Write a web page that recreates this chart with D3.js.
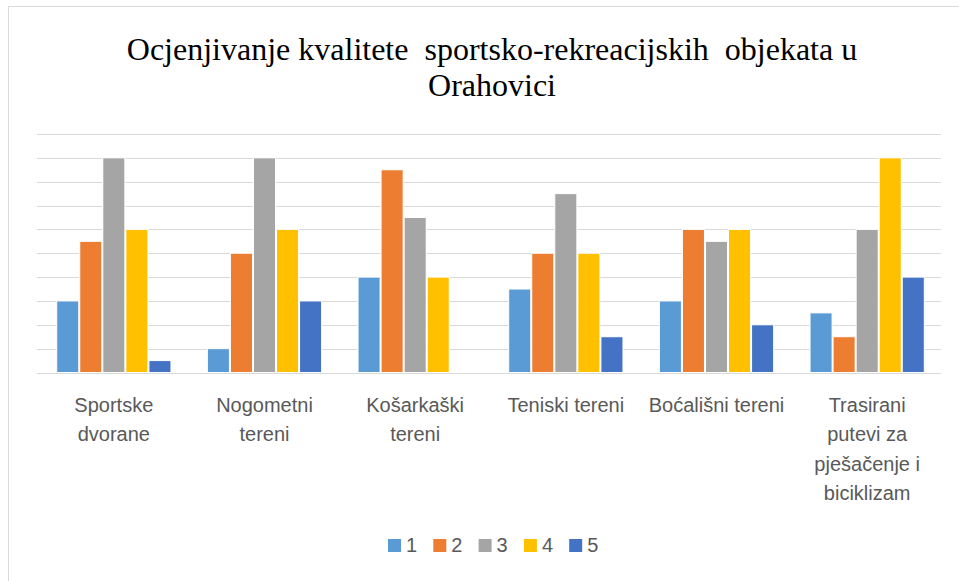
<!DOCTYPE html>
<html>
<head>
<meta charset="utf-8">
<script src="https://cdn.jsdelivr.net/npm/d3@7"></script>
<style>
  body { margin: 0; background: #fff; }
  svg { display: block; }
</style>
</head>
<body>
<svg id="chart" width="959" height="581"></svg>
<script>
// categories and ratings (counts of answers 1..5)
const categories = [
  ['Sportske', 'dvorane'],
  ['Nogometni', 'tereni'],
  ['Košarkaški', 'tereni'],
  ['Teniski tereni'],
  ['Boćališni tereni'],
  ['Trasirani', 'putevi za', 'pješačenje i', 'biciklizam']
];
const seriesNames = ['1', '2', '3', '4', '5'];
const ocjena1 = [6, 2, 8, 7, 6, 5];
const ocjena2 = [11, 10, 17, 10, 12, 3];
const ocjena3 = [18, 18, 13, 15, 11, 12];
const ocjena4 = [12, 12, 8, 10, 12, 18];
const ocjena5 = [1, 6, 0, 3, 4, 8];
const colors = ['#5B9BD5', '#ED7D31', '#A5A5A5', '#FFC000', '#4472C4'];
const yTicks = d3.range(0, 21, 2);

const series = [ocjena1, ocjena2, ocjena3, ocjena4, ocjena5];

const svg = d3.select('#chart');
const margin = {left: 37, right: 18, top: 134, bottom: 208};
const W = 959, H = 581;

// chart frame
svg.append('rect')
  .attr('x', 8.5).attr('y', 6.5)
  .attr('width', 1000).attr('height', 1000)
  .attr('fill', 'none')
  .attr('stroke', '#D9D9D9');

const x0 = d3.scaleBand()
  .domain(d3.range(categories.length))
  .range([margin.left + 1.5, W - margin.right + 1.5])
  .paddingInner(0.235).paddingOuter(0.1175);

const x1 = d3.scaleBand()
  .domain(d3.range(seriesNames.length))
  .range([0, x0.bandwidth()])
  .padding(0.0);

const y = d3.scaleLinear()
  .domain([0, 20])
  .range([H - margin.bottom - 0.5, margin.top]);

// gridlines
svg.append('g')
  .selectAll('line')
  .data(yTicks)
  .join('line')
  .attr('x1', margin.left)
  .attr('x2', W - margin.right)
  .attr('y1', d => Math.round(y(d)) + 0.5)
  .attr('y2', d => Math.round(y(d)) + 0.5)
  .attr('stroke', '#D9D9D9')
  .attr('stroke-width', 1.2);

// bars
const groups = svg.append('g')
  .selectAll('g')
  .data(categories)
  .join('g')
  .attr('transform', (d, i) => `translate(${x0(i)},0)`);

groups.selectAll('rect')
  .data((d, i) => series.map((s, k) => ({k, v: s[i]})))
  .join('rect')
  .filter(d => d.v > 0)
  .attr('x', d => x1(d.k) + 0.5)
  .attr('width', x1.bandwidth() - 1)
  .attr('y', d => y(d.v))
  .attr('height', d => y(0) - y(d.v))
  .attr('fill', d => colors[d.k])
  .attr('stroke', '#fff')
  .attr('stroke-width', 1);

// category labels
const labels = svg.append('g')
  .selectAll('text')
  .data(categories)
  .join('text')
  .attr('text-anchor', 'middle')
  .attr('font-family', '"Liberation Sans", Arial, sans-serif')
  .attr('font-size', 20)
  .attr('fill', '#595959');

labels.selectAll('tspan')
  .data((d, i) => d.map(t => ({t, i})))
  .join('tspan')
  .attr('x', d => x0(d.i) + x0.bandwidth() / 2)
  .attr('y', (d, j) => 412 + j * 29.3)
  .text(d => d.t);

// title
const title = svg.append('text')
  .attr('text-anchor', 'middle')
  .attr('font-family', '"Liberation Serif", "Times New Roman", serif')
  .attr('font-size', 32)
  .attr('fill', '#000')
  .style('white-space', 'pre');
title.append('tspan').attr('x', 492).attr('y', 60)
  .text('Ocjenjivanje kvalitete  sportsko-rekreacijskih  objekata u');
title.append('tspan').attr('x', 492).attr('y', 96)
  .text('Orahovici');

// legend
const legend = svg.append('g')
  .selectAll('g')
  .data(seriesNames)
  .join('g')
  .attr('transform', (d, i) => `translate(${388 + i * 45.3},539)`);

legend.append('rect')
  .attr('width', 13).attr('height', 13)
  .attr('fill', (d, i) => colors[i]);

legend.append('text')
  .attr('x', 18).attr('y', 13)
  .attr('font-family', '"Liberation Sans", Arial, sans-serif')
  .attr('font-size', 20)
  .attr('fill', '#595959')
  .text(d => d);
</script>
</body>
</html>
